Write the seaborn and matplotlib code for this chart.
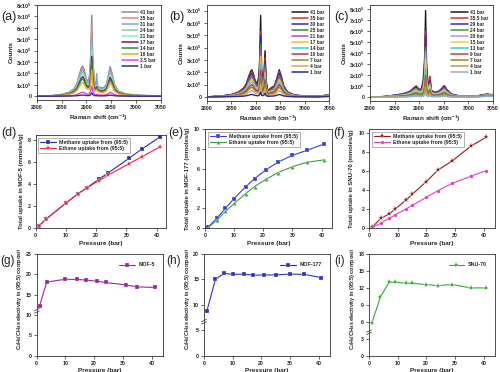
import pandas as pd
import seaborn as sns
import matplotlib.pyplot as plt
from matplotlib.ticker import FuncFormatter, MultipleLocator
from matplotlib.transforms import Bbox, TransformedBbox

# ---------------- Raman spectra (counts in units of 1e5) ----------------
shiftA = [2800, 2830, 2850, 2865, 2875, 2881, 2886, 2890, 2893, 2896, 2900, 2904,
          2907, 2909, 2911, 2913, 2916,
          2919, 2921, 2923, 2928, 2935, 2940, 2944, 2948, 2952, 2957, 2965, 2980, 3000, 3025, 3050]
labelsA = ["41 bar", "35 bar", "31 bar", "24 bar", "21 bar", "17 bar",
           "14 bar", "10 bar", "3.5 bar", "1 bar"]
countsA = [
    [0.0, 0.05, 0.15, 0.35, 0.65, 1.10, 1.90, 2.50, 2.65, 2.30, 1.50, 1.30,
     2.00, 3.80, 7.10, 3.50, 1.40,
     1.10, 1.30, 0.90, 0.75, 0.75, 1.00, 1.70, 2.60, 2.00, 1.00, 0.45, 0.20, 0.10, 0.05, 0.05],
    [0.0, 0.05, 0.14, 0.32, 0.60, 1.01, 1.75, 2.30, 2.45, 2.12, 1.38, 1.20,
     1.74, 3.30, 6.20, 3.05, 1.22,
     1.01, 1.20, 0.83, 0.69, 0.69, 0.92, 1.56, 2.40, 1.84, 0.92, 0.41, 0.18, 0.09, 0.05, 0.05],
    [0.0, 0.04, 0.13, 0.30, 0.57, 0.96, 1.65, 2.18, 2.30, 2.00, 1.30, 1.13,
     1.50, 2.85, 5.30, 2.60, 1.05,
     0.96, 2.00, 0.78, 0.65, 0.65, 0.87, 1.48, 2.26, 1.74, 0.87, 0.39, 0.17, 0.09, 0.04, 0.04],
    [0.0, 0.04, 0.12, 0.28, 0.51, 0.87, 1.50, 1.98, 2.10, 1.82, 1.19, 1.03,
     1.26, 2.40, 4.50, 2.20, 0.88,
     0.87, 1.03, 0.71, 0.59, 0.59, 0.79, 1.34, 2.05, 1.58, 0.79, 0.36, 0.16, 0.08, 0.04, 0.04],
    [0.0, 0.04, 0.11, 0.25, 0.47, 0.79, 1.37, 1.80, 1.90, 1.66, 1.08, 0.94,
     1.12, 2.13, 4.00, 1.96, 0.78,
     0.79, 0.94, 0.65, 0.54, 0.54, 0.72, 1.22, 1.87, 1.44, 0.72, 0.32, 0.14, 0.07, 0.04, 0.04],
    [0.0, 0.03, 0.10, 0.22, 0.42, 0.70, 1.22, 1.60, 1.70, 1.47, 0.96, 0.83,
     0.98, 1.86, 3.50, 1.72, 0.69,
     0.70, 0.83, 0.58, 0.48, 0.48, 0.64, 1.09, 1.66, 1.28, 0.64, 0.29, 0.13, 0.06, 0.03, 0.03],
    [0.0, 0.03, 0.09, 0.20, 0.37, 0.63, 1.08, 1.43, 1.50, 1.31, 0.86, 0.74,
     0.84, 1.60, 3.00, 1.47, 0.59,
     0.63, 0.74, 0.51, 0.43, 0.43, 0.57, 0.97, 1.48, 1.14, 0.57, 0.26, 0.11, 0.06, 0.03, 0.03],
    [0.0, 0.02, 0.07, 0.16, 0.29, 0.50, 0.86, 1.13, 1.20, 1.04, 0.68, 0.59,
     0.64, 1.22, 2.30, 1.12, 0.45,
     0.50, 0.59, 0.41, 0.34, 0.34, 0.45, 0.77, 1.17, 0.90, 0.45, 0.20, 0.09, 0.05, 0.02, 0.02],
    [0.0, 0.01, 0.02, 0.05, 0.08, 0.14, 0.25, 0.33, 0.35, 0.30, 0.20, 0.17,
     0.26, 0.49, 0.90, 0.45, 0.18,
     0.14, 0.17, 0.12, 0.10, 0.10, 0.13, 0.22, 0.34, 0.26, 0.13, 0.06, 0.03, 0.01, 0.01, 0.01],
    [0.0, 0.00, 0.01, 0.01, 0.03, 0.04, 0.08, 0.10, 0.10, 0.09, 0.06, 0.05,
     0.08, 0.15, 0.30, 0.14, 0.06,
     0.04, 0.05, 0.04, 0.03, 0.03, 0.04, 0.07, 0.10, 0.08, 0.04, 0.02, 0.01, 0.00, 0.00, 0.00],
]
colorsA = ["#8c8c8c", "#f08080", "#6fa8dc", "#7fd4a8", "#90e0f0", "#7b1c3c",
           "#2e8b3e", "#f5a623", "#e040e0", "#3030a0"]

shiftB = [2800, 2830, 2850, 2865, 2875, 2881, 2886, 2890, 2892, 2895, 2899, 2903,
          2906, 2908, 2910, 2912,
          2915, 2917, 2919, 2921,
          2924, 2930, 2938, 2943, 2948, 2952, 2957, 2965, 2980, 3000, 3025, 3040, 3050]
labelsB = ["41 bar", "35 bar", "30 bar", "25 bar", "21 bar", "17 bar",
           "14 bar", "10 bar", "7 bar", "4 bar", "1 bar"]
countsB = [
    [0.0, 0.08, 0.20, 0.40, 0.70, 1.10, 1.70, 2.10, 2.20, 1.90, 1.30, 1.10,
     1.60, 3.00, 6.60, 2.20, 1.30, 2.00, 3.75, 1.50,
     0.50, 0.70, 0.90, 1.50, 2.20, 1.70, 0.90, 0.40, 0.15, 0.08, 0.05, 0.12, 0.20],
    [0.0, 0.07, 0.19, 0.37, 0.65, 1.02, 1.58, 1.95, 2.05, 1.77, 1.21, 1.02,
     1.28, 2.40, 5.30, 1.76, 1.10, 1.70, 3.20, 1.28,
     0.47, 0.65, 0.84, 1.40, 2.05, 1.58, 0.84, 0.37, 0.14, 0.07, 0.05, 0.11, 0.19],
    [0.0, 0.07, 0.17, 0.34, 0.60, 0.95, 1.46, 1.81, 1.90, 1.63, 1.12, 0.95,
     1.22, 2.28, 5.00, 1.67, 1.00, 1.54, 2.90, 1.16,
     0.43, 0.60, 0.77, 1.29, 1.90, 1.46, 0.77, 0.34, 0.13, 0.07, 0.04, 0.10, 0.17],
    [0.0, 0.06, 0.16, 0.32, 0.56, 0.88, 1.36, 1.68, 1.75, 1.52, 1.04, 0.88,
     1.04, 1.95, 4.30, 1.43, 0.90, 1.38, 2.60, 1.04,
     0.40, 0.56, 0.72, 1.20, 1.75, 1.36, 0.72, 0.32, 0.12, 0.06, 0.04, 0.10, 0.16],
    [0.0, 0.06, 0.15, 0.29, 0.51, 0.80, 1.24, 1.53, 1.60, 1.39, 0.95, 0.80,
     0.93, 1.74, 3.80, 1.28, 0.79, 1.22, 2.30, 0.92,
     0.37, 0.51, 0.66, 1.10, 1.60, 1.24, 0.66, 0.29, 0.11, 0.06, 0.04, 0.09, 0.15],
    [0.0, 0.05, 0.13, 0.26, 0.45, 0.70, 1.09, 1.34, 1.40, 1.22, 0.83, 0.70,
     0.80, 1.50, 3.30, 1.10, 0.69, 1.06, 2.00, 0.80,
     0.32, 0.45, 0.58, 0.96, 1.40, 1.09, 0.58, 0.26, 0.10, 0.05, 0.03, 0.08, 0.13],
    [0.0, 0.04, 0.11, 0.22, 0.39, 0.61, 0.94, 1.16, 1.20, 1.05, 0.72, 0.61,
     0.62, 1.17, 2.60, 0.86, 0.59, 0.90, 1.70, 0.68,
     0.28, 0.39, 0.50, 0.83, 1.20, 0.94, 0.50, 0.22, 0.08, 0.04, 0.03, 0.07, 0.11],
    [0.0, 0.04, 0.09, 0.18, 0.32, 0.50, 0.77, 0.95, 1.00, 0.86, 0.59, 0.50,
     0.53, 0.99, 2.20, 0.73, 0.48, 0.74, 1.40, 0.56,
     0.23, 0.32, 0.41, 0.68, 1.00, 0.77, 0.41, 0.18, 0.07, 0.04, 0.02, 0.06, 0.09],
    [0.0, 0.03, 0.07, 0.14, 0.25, 0.40, 0.61, 0.76, 0.80, 0.68, 0.47, 0.40,
     0.42, 0.78, 1.70, 0.57, 0.38, 0.58, 1.10, 0.44,
     0.18, 0.25, 0.32, 0.54, 0.80, 0.61, 0.32, 0.14, 0.05, 0.03, 0.02, 0.05, 0.08],
    [0.0, 0.02, 0.05, 0.09, 0.16, 0.25, 0.39, 0.48, 0.50, 0.44, 0.30, 0.25,
     0.24, 0.45, 1.00, 0.33, 0.25, 0.38, 0.70, 0.29,
     0.12, 0.16, 0.21, 0.35, 0.50, 0.39, 0.21, 0.09, 0.03, 0.02, 0.01, 0.04, 0.06],
    [0.0, 0.01, 0.02, 0.04, 0.06, 0.10, 0.15, 0.19, 0.20, 0.17, 0.12, 0.10,
     0.10, 0.18, 0.40, 0.13, 0.10, 0.16, 0.30, 0.12,
     0.05, 0.06, 0.08, 0.14, 0.20, 0.15, 0.08, 0.04, 0.01, 0.01, 0.00, 0.02, 0.03],
]
colorsB = ["#1a1a1a", "#e8282e", "#2828c8", "#3a8c3a", "#b050c0", "#f0c020",
           "#40d0d0", "#c03050", "#8c8c20", "#e0a060", "#2a2a8c"]

shiftC = [2800, 2830, 2850, 2865, 2875, 2883, 2889, 2894, 2899, 2904,
          2908, 2911, 2913, 2915, 2918, 2920, 2922,
          2925, 2932, 2940, 2946, 2951, 2956, 2965, 2980, 3000, 3020, 3032, 3038, 3044, 3050]
labelsC = ["41 bar", "35.5 bar", "29 bar", "24 bar", "20 bar", "15 bar",
           "13 bar", "9 bar", "7 bar", "4 bar", "1 bar"]
countsC = [
    [0.0, 0.08, 0.20, 0.30, 0.42, 0.60, 0.85, 1.00, 0.75, 0.70,
     1.50, 3.50, 7.90, 3.00, 1.20, 1.40, 1.60,
     0.60, 0.45, 0.55, 0.80, 1.05, 0.70, 0.30, 0.15, 0.12, 0.15, 0.25, 0.30, 0.25, 0.25],
    [0.0, 0.08, 0.20, 0.31, 0.43, 0.61, 0.87, 1.05, 0.77, 0.71,
     1.14, 2.66, 6.00, 2.28, 0.91, 1.60, 1.90,
     0.60, 0.46, 0.56, 0.82, 1.08, 0.71, 0.30, 0.15, 0.12, 0.15, 0.25, 0.30, 0.25, 0.25],
    [0.0, 0.08, 0.19, 0.29, 0.40, 0.57, 0.81, 0.95, 0.71, 0.67,
     1.07, 2.49, 5.60, 2.13, 0.85, 1.30, 1.50,
     0.57, 0.43, 0.52, 0.76, 1.00, 0.67, 0.29, 0.14, 0.11, 0.14, 0.24, 0.28, 0.24, 0.24],
    [0.0, 0.06, 0.16, 0.24, 0.34, 0.48, 0.68, 0.80, 0.60, 0.56,
     0.87, 2.03, 4.60, 1.74, 0.70, 1.10, 1.30,
     0.48, 0.36, 0.44, 0.64, 0.84, 0.56, 0.24, 0.12, 0.10, 0.12, 0.21, 0.25, 0.21, 0.21],
    [0.0, 0.06, 0.14, 0.21, 0.29, 0.42, 0.60, 0.70, 0.53, 0.49,
     0.80, 1.86, 4.20, 1.59, 0.64, 1.00, 1.15,
     0.42, 0.32, 0.39, 0.56, 0.74, 0.49, 0.21, 0.11, 0.09, 0.11, 0.19, 0.23, 0.19, 0.19],
    [0.0, 0.05, 0.12, 0.18, 0.25, 0.36, 0.51, 0.60, 0.45, 0.42,
     0.66, 1.54, 3.50, 1.32, 0.53, 0.85, 1.00,
     0.36, 0.27, 0.33, 0.48, 0.63, 0.42, 0.18, 0.09, 0.08, 0.10, 0.17, 0.20, 0.17, 0.17],
    [0.0, 0.04, 0.10, 0.15, 0.21, 0.30, 0.43, 0.50, 0.38, 0.35,
     0.50, 1.16, 2.60, 0.99, 0.40, 0.70, 0.80,
     0.30, 0.23, 0.28, 0.40, 0.53, 0.35, 0.15, 0.08, 0.07, 0.09, 0.15, 0.18, 0.15, 0.15],
    [0.0, 0.03, 0.08, 0.12, 0.17, 0.24, 0.34, 0.40, 0.30, 0.28,
     0.38, 0.88, 2.00, 0.75, 0.30, 0.55, 0.65,
     0.24, 0.18, 0.22, 0.32, 0.42, 0.28, 0.12, 0.06, 0.06, 0.08, 0.14, 0.16, 0.14, 0.14],
    [0.0, 0.02, 0.06, 0.09, 0.13, 0.18, 0.26, 0.30, 0.23, 0.21,
     0.29, 0.67, 1.50, 0.57, 0.23, 0.42, 0.50,
     0.18, 0.14, 0.17, 0.24, 0.32, 0.21, 0.09, 0.05, 0.05, 0.07, 0.12, 0.14, 0.12, 0.12],
    [0.0, 0.02, 0.04, 0.06, 0.08, 0.12, 0.17, 0.20, 0.15, 0.14,
     0.17, 0.39, 0.90, 0.33, 0.13, 0.25, 0.30,
     0.12, 0.09, 0.11, 0.16, 0.21, 0.14, 0.06, 0.03, 0.04, 0.06, 0.10, 0.12, 0.10, 0.10],
    [0.0, 0.01, 0.02, 0.03, 0.04, 0.06, 0.09, 0.10, 0.08, 0.07,
     0.08, 0.18, 0.40, 0.15, 0.06, 0.12, 0.15,
     0.06, 0.05, 0.06, 0.08, 0.11, 0.07, 0.03, 0.02, 0.03, 0.05, 0.08, 0.10, 0.08, 0.08],
]
colorsC = ["#1a1a1a", "#e8282e", "#3030c8", "#3a9c3a", "#c090e0", "#f0d040",
           "#30d0d0", "#c04040", "#8c8c20", "#d09050", "#90b0d0"]

# ---------------- Uptake isotherms (mmoles/g) ----------------
pressureMOF5 = [1, 3.5, 10, 14, 17, 21, 24, 31, 35, 41]
methaneMOF5 = [0.2, 0.85, 2.3, 3.15, 3.7, 4.5, 5.05, 6.4, 7.2, 8.3]
ethaneMOF5 = [0.2, 0.85, 2.3, 3.15, 3.7, 4.35, 4.85, 5.9, 6.5, 7.4]
selectMOF5 = [12.3, 18.1, 18.8, 18.75, 18.6, 18.3, 18.0, 17.4, 16.9, 16.8]

pressureMOF177 = [1, 4, 7, 10, 14, 17, 21, 25, 30, 35, 41]
methaneMOF177 = [0.1, 1.0, 2.0, 3.0, 4.2, 5.0, 5.9, 6.65, 7.35, 7.85, 8.5]
ethaneMOF177 = [0.05, 0.8, 1.7, 2.5, 3.5, 4.2, 4.95, 5.6, 6.2, 6.65, 6.9]
selectMOF177 = [8.8, 15.0, 16.2, 16.0, 16.05, 15.85, 15.85, 15.9, 16.05, 16.0, 15.35]

pressureSNU70 = [1, 4, 7, 9, 13, 15, 20, 24, 29, 35.5, 41]
methaneSNU70 = [0.1, 1.05, 1.5, 2.0, 3.0, 3.55, 4.9, 6.1, 7.05, 8.6, 9.55]
ethaneSNU70 = [0.05, 0.55, 1.05, 1.4, 2.05, 2.4, 3.25, 3.95, 4.7, 5.45, 6.05]
selectSNU70 = [5.8, 10.4, 13.0, 13.0, 12.85, 12.8, 12.6, 12.4, 12.6, 12.0, 12.0]

gasLabels = ["Methane uptake from (95:5)", "Ethane uptake from (95:5)"]

# ---------------- style ----------------
sns.set_style("ticks")
plt.rcParams['font.family'] = ['Liberation Sans', 'DejaVu Sans']
plt.rcParams['font.weight'] = 'bold'
plt.rcParams['axes.labelweight'] = 'bold'
plt.rcParams['axes.linewidth'] = 0.6
plt.rcParams['mathtext.default'] = 'regular'
TICK_FS = 3.8
LABEL_FS = 4.6
LETTER_FS = 9

fig = plt.figure(figsize=(5.0, 3.72), dpi=100)


def styleAxis(ax):
    for side in ['top', 'right', 'left', 'bottom']:
        ax.spines[side].set_visible(True)
        ax.spines[side].set_linewidth(0.6)
        ax.spines[side].set_color('#333333')
    ax.tick_params(axis='both', labelsize=TICK_FS, length=2, width=0.5, pad=1.5, direction='out')
    for lbl in ax.get_xticklabels() + ax.get_yticklabels():
        lbl.set_fontweight('bold')


def ramanPanel(rect, shift, labels, counts, colors, ymax, letter, letterPos):
    ax = fig.add_axes(rect)
    rows = []
    for lab, vals in zip(labels, counts):
        for x, y in zip(shift, vals):
            rows.append({'shift': x, 'counts': y, 'pressure': lab})
    df = pd.DataFrame(rows)
    sns.lineplot(data=df, x='shift', y='counts', hue='pressure', hue_order=labels,
                 palette=colors, estimator=None, sort=False, linewidth=1.0, ax=ax)
    ax.set_xlim(2800, 3050)
    ax.set_ylim(-0.33, ymax)
    ax.xaxis.set_major_locator(MultipleLocator(50))
    ax.yaxis.set_major_locator(MultipleLocator(1))
    ax.yaxis.set_major_formatter(FuncFormatter(
        lambda v, p: "0" if abs(v) < 1e-9 else f"{int(round(v))}x10$^5$"))
    ax.set_xlabel("Raman shift (cm$^{-1}$)", fontsize=LABEL_FS, labelpad=2)
    ax.set_ylabel("Counts", fontsize=LABEL_FS, labelpad=2)
    styleAxis(ax)
    leg = ax.legend(loc='upper right', frameon=False, fontsize=3.4, handlelength=3.4,
                    labelspacing=0.22, handletextpad=0.5, borderaxespad=0.6)
    for line in leg.get_lines():
        line.set_linewidth(1.1)
    fig.text(letterPos[0], letterPos[1], letter, fontsize=LETTER_FS, fontweight='normal', va='center')
    return ax


def uptakePanel(rect, pressure, methane, ethane, colors, markers, sizes, xmax, ymax, ylabel,
                letter, letterPos):
    ax = fig.add_axes(rect)
    for vals, gas, color, mk, ms in zip([methane, ethane], gasLabels, colors, markers, sizes):
        df = pd.DataFrame({'Pressure': pressure, 'Uptake': vals, 'Gas': [gas] * len(pressure)})
        sns.lineplot(data=df, x='Pressure', y='Uptake', hue='Gas', palette=[color],
                     marker=mk, markersize=ms, markeredgewidth=0.2, linewidth=0.8, ax=ax)
    ax.set_xlim(0, xmax)
    ax.set_ylim(0, ymax)
    ax.xaxis.set_major_locator(MultipleLocator(10))
    ax.yaxis.set_major_locator(MultipleLocator(2))
    ax.set_xlabel("Pressure (bar)", fontsize=LABEL_FS, labelpad=2)
    ax.set_ylabel(ylabel, fontsize=LABEL_FS - 0.3, labelpad=3)
    styleAxis(ax)
    leg = ax.legend(loc='upper left', frameon=True, fancybox=False, fontsize=3.8,
                    handlelength=3.0, labelspacing=0.3, borderpad=0.4,
                    handletextpad=0.6, borderaxespad=0.5)
    leg.get_frame().set_linewidth(0.4)
    leg.get_frame().set_edgecolor('#555555')
    for t in leg.get_texts():
        t.set_fontweight('bold')
    fig.text(letterPos[0], letterPos[1], letter, fontsize=LETTER_FS, fontweight='normal', va='center')
    return ax


def selectivityPanel(rect, pressure, select, name, color, marker, msize, ymax, ystep, breakY,
                     letter, letterPos):
    ax = fig.add_axes(rect)
    df = pd.DataFrame({'Pressure': pressure, 'Selectivity': select,
                       'Framework': [name] * len(pressure)})
    sns.lineplot(data=df, x='Pressure', y='Selectivity', hue='Framework',
                 palette=[color], marker=marker, markersize=msize, markeredgewidth=0.2,
                 linewidth=0.8, ax=ax)
    ax.set_xlim(0, 44)
    ax.set_ylim(0, ymax)
    ax.xaxis.set_major_locator(MultipleLocator(10))
    ax.yaxis.set_major_locator(MultipleLocator(ystep))
    ax.set_xlabel("Pressure (bar)", fontsize=LABEL_FS, labelpad=2)
    ax.set_ylabel("C$_2$H$_6$/CH$_4$ selectivity in (95:5) composition",
                  fontsize=LABEL_FS - 0.6, labelpad=3)
    ax.yaxis.set_label_coords(-0.098, 0.6)
    styleAxis(ax)
    leg = ax.legend(loc='upper right', frameon=False, fontsize=3.8, handlelength=3.0,
                    handletextpad=0.6, borderaxespad=1.2)
    for t in leg.get_texts():
        t.set_fontweight('bold')
    # axis break marks on the left spine
    for dy in (-0.012, 0.012):
        ax.plot([-0.02, 0.02], [breakY + dy - 0.012, breakY + dy + 0.012],
                transform=ax.transAxes, color='#333333', lw=0.5, clip_on=False)
    # each panel was a separate image: clip the long label at its panel edge
    clip = TransformedBbox(Bbox([[0, 0], [1, 122 / 372]]), fig.transFigure)
    ax.yaxis.label.set_clip_box(clip)
    ax.yaxis.label.set_clip_on(True)
    fig.text(letterPos[0], letterPos[1], letter, fontsize=LETTER_FS - 0.5, fontweight='normal', va='center')
    return ax


# Row 1: Raman spectra
ramanPanel([0.0734, 0.7312, 0.248, 0.2554], shiftA, labelsA, countsA, colorsA, 8.0, "(a)", (0.002, 0.955))
ramanPanel([0.4134, 0.7285, 0.2452, 0.258], shiftB, labelsB, countsB, colorsB, 7.45, "(b)", (0.338, 0.955))
ramanPanel([0.740, 0.7285, 0.246, 0.258], shiftC, labelsC, countsC, colorsC, 8.4, "(c)", (0.668, 0.955))

# Row 2: uptake
uptakePanel([0.0714, 0.3863, 0.26, 0.2508], pressureMOF5, methaneMOF5, ethaneMOF5,
            ["#2b2bb8", "#e8282e"], ['s', '*'], [2.6, 4.2], 43, 8.5,
            "Total uptake in MOF-5 (mmoles/g)", "(d)", (0.002, 0.642))
uptakePanel([0.41, 0.3863, 0.2534, 0.2669], pressureMOF177, methaneMOF177, ethaneMOF177,
            ["#3c3cd8", "#3aa03a"], ['s', '^'], [2.6, 3.0], 43.5, 10,
            "Total uptake in MOF-177 (mmoles/g)", "(e)", (0.336, 0.642))
uptakePanel([0.7386, 0.3863, 0.2514, 0.2669], pressureSNU70, methaneSNU70, ethaneSNU70,
            ["#8b1c1c", "#e03cc8"], ['*', 'o'], [4.2, 2.6], 44, 10.4,
            "Total uptake in SNU-70 (mmoles/g)", "(f)", (0.666, 0.642))

# Row 3: selectivity
selectivityPanel([0.0734, 0.0438, 0.2532, 0.2734], pressureMOF5, selectMOF5, "MOF-5",
                 "#a0209c", 's', 2.6, 25, 5, 0.44, "(g)", (0.0, 0.298))
selectivityPanel([0.408, 0.0438, 0.252, 0.2734], pressureMOF177, selectMOF177, "MOF-177",
                 "#3030c0", 's', 2.6, 20, 5, 0.335, "(h)", (0.332, 0.298))
selectivityPanel([0.738, 0.0438, 0.252, 0.2734], pressureSNU70, selectSNU70, "SNU-70",
                 "#33aa33", '*', 4.0, 18, 3, 0.23, "(i)", (0.668, 0.298))

fig.savefig("out.png", dpi=100)
